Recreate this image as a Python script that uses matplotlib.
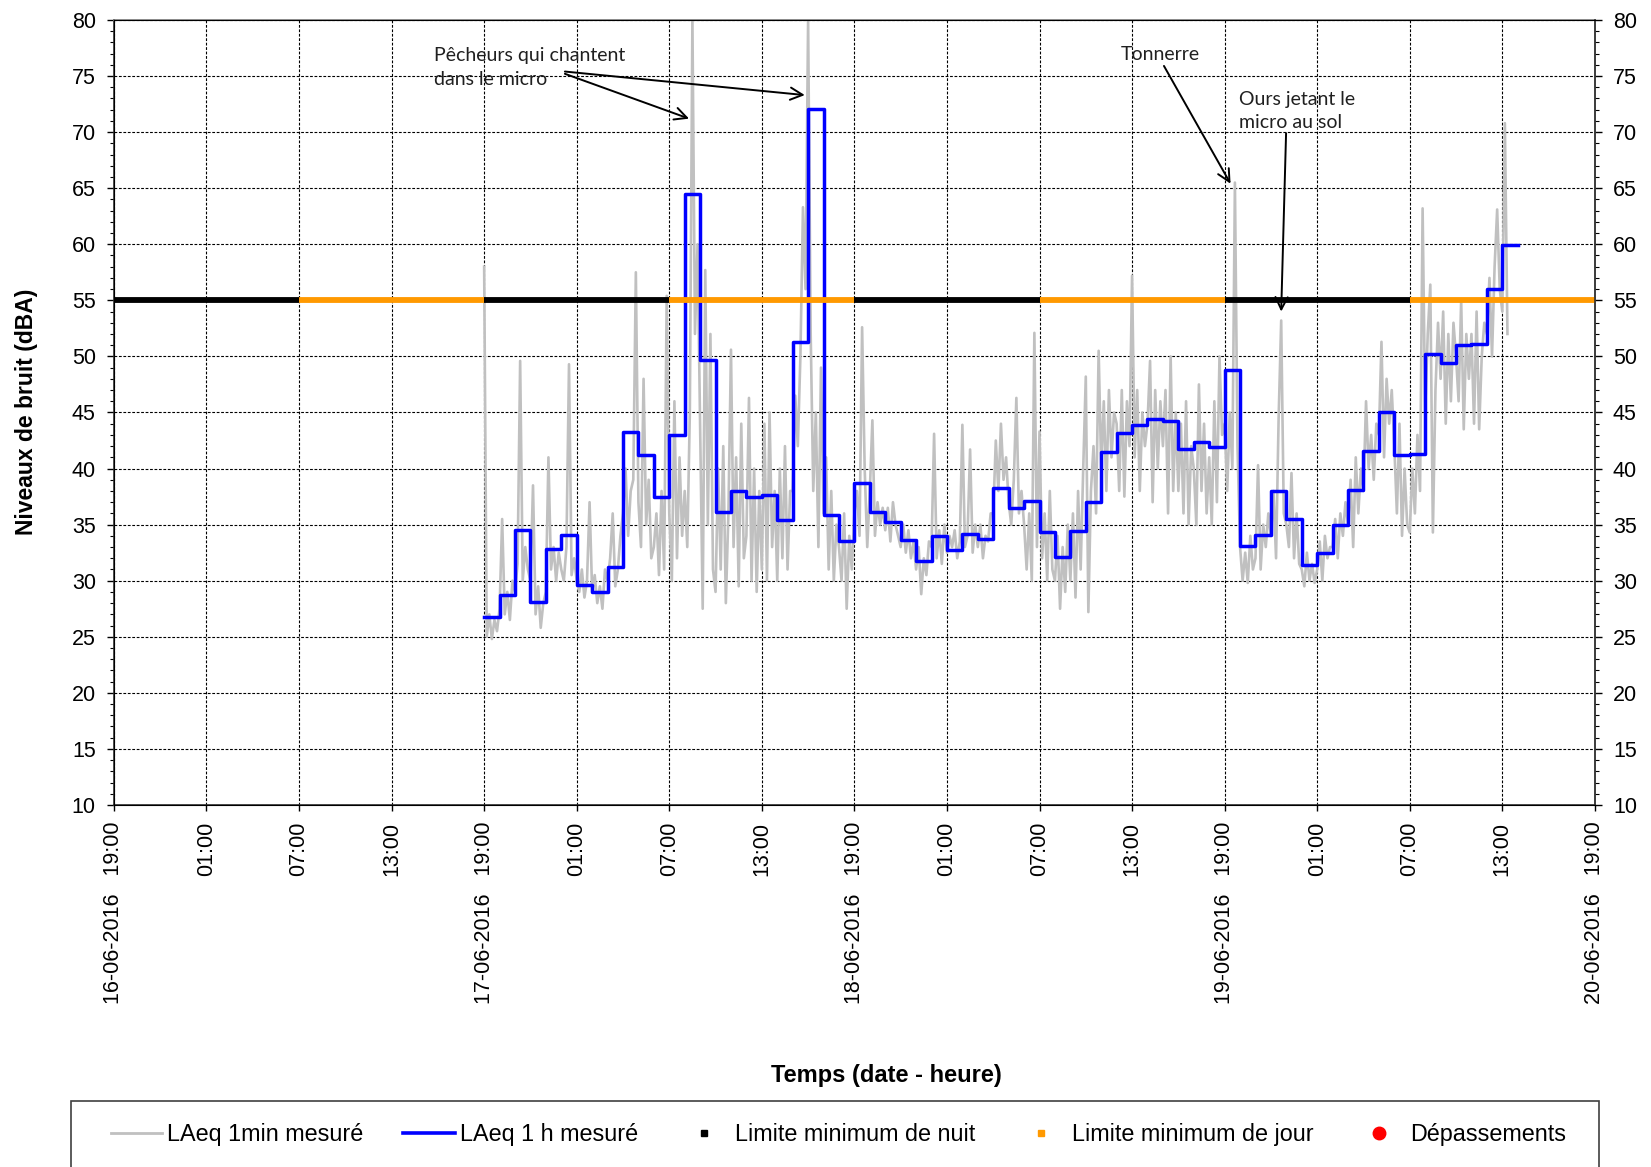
import numpy as np
import pandas as pd
import matplotlib
matplotlib.use("Agg")
import matplotlib.pyplot as plt
import matplotlib.dates as mdates
from matplotlib.ticker import MultipleLocator, FuncFormatter
from matplotlib.lines import Line2D
from matplotlib.patches import Rectangle

# ---------------------------------------------------------------- data
# LAeq 1 min (sampled every 10 minutes), one row per hour
gray_start_0617 = "2016-06-17 19:00"
gray_0617 = [
    58.0, 25.0, 27.0, 24.8, 26.5, 25.5,   # 19h
    27.5, 35.5, 27.0, 29.0, 26.5, 30.0,   # 20h
    29.0, 31.5, 49.6, 30.0, 33.0, 31.0,   # 21h
    30.0, 38.5, 27.0, 29.5, 25.8, 28.0,   # 22h
    29.0, 41.0, 31.0, 33.0, 30.0, 32.5,   # 23h
]
gray_0618 = [
    31.0, 30.0, 33.0, 49.3, 30.5, 32.0,
    30.0, 29.0, 31.0, 28.5, 30.0, 37.0,
    29.0, 30.5, 28.0, 29.5, 27.5, 31.0,
    30.0, 32.0, 36.0, 29.5, 31.0, 34.0,
    36.0, 40.0, 34.0, 38.0, 39.0, 57.5,
    37.0, 33.0, 48.0, 35.0, 39.0, 32.0,
    33.0, 36.0, 30.5, 38.0, 31.0, 55.4,
    36.0, 30.0, 46.0, 32.0, 41.0, 34.0,
    38.0, 33.0, 45.0, 80.0, 52.0, 60.0,
    44.0, 27.5, 57.7, 35.0, 52.0, 31.0,
    29.0, 40.0, 31.0, 42.0, 28.0, 36.0,
    50.6, 33.0, 41.0, 29.5, 44.0, 32.0,
    34.0, 46.3, 30.0, 40.0, 29.0, 38.0,
    31.0, 44.0, 30.0, 45.0, 33.0, 38.0,
    30.0, 40.0, 32.0, 42.0, 31.0, 38.0,
    38.0, 46.5, 42.0, 50.0, 63.3, 56.0,
    80.0, 52.0, 38.0, 45.0, 33.0, 49.0,
    36.0, 41.0, 31.0, 38.0, 30.0, 35.0,
    33.0, 30.0, 36.0, 27.5, 34.0, 31.0,
    36.0, 38.0, 34.0, 52.6, 40.0, 33.0,
    38.0, 44.3, 34.0, 37.0, 35.0, 36.5,
    34.5, 36.5, 33.5, 37.0, 35.0, 34.0,
    33.0, 35.0, 32.5, 34.5, 32.0, 33.5,
    31.0, 33.0, 28.8, 32.0, 30.5, 33.5,
]
gray_0619 = [
    33.0, 43.1, 32.0, 34.5, 31.5, 35.0,
    32.5, 34.0, 33.0, 34.5, 32.0, 33.5,
    43.9, 33.0, 34.0, 41.7, 32.5, 35.0,
    33.0, 35.0, 32.0, 34.0, 33.5, 36.0,
    36.0, 42.5, 38.0, 44.0, 39.0, 41.0,
    37.0, 35.0, 39.0, 46.3, 36.0, 38.0,
    35.0, 31.0, 36.0, 30.0, 52.1, 33.0,
    43.3, 32.0, 36.0, 30.0, 38.0, 31.0,
    30.0, 34.0, 27.5, 33.0, 29.0, 35.0,
    30.0, 36.0, 28.5, 38.0, 31.0, 40.0,
    48.2, 27.2, 38.0, 42.0, 36.0, 50.5,
    40.0, 46.0, 38.0, 47.0, 41.0, 45.0,
    44.0, 38.0, 47.0, 37.5, 46.0, 42.0,
    57.2, 41.0, 47.0, 38.0, 45.0, 42.0,
    44.0, 49.6, 37.0, 47.0, 40.0, 46.0,
    42.0, 47.0, 36.0, 50.0, 38.0, 45.0,
    38.0, 44.0, 36.0, 46.0, 35.0, 42.0,
    40.0, 35.0, 47.5, 38.0, 44.0, 36.0,
    41.0, 35.0, 46.0, 37.0, 50.0, 43.0,
    44.0, 38.0, 45.0, 40.0, 65.5, 42.0,
    33.0, 30.0, 32.5, 29.8, 34.0, 31.0,
    32.0, 40.3, 31.0, 35.0, 33.0, 36.0,
    34.0, 38.0, 32.0, 44.5, 53.2, 36.0,
    35.0, 33.0, 39.6, 32.0, 36.0, 31.5,
]
gray_0620 = [
    31.0, 29.5, 32.5, 30.0, 31.5, 29.8,
    31.0, 33.5, 30.0, 34.0, 32.0, 33.0,
    33.0, 35.5, 32.0, 36.0, 34.0, 37.0,
    35.0, 39.0, 33.0, 41.0, 36.0, 40.0,
    38.0, 46.0, 40.0, 43.0, 39.0, 44.0,
    43.0, 51.3, 41.0, 48.0, 44.0, 47.0,
    42.0, 36.0, 44.0, 34.0, 40.0, 35.0,
    34.3, 40.0, 36.0, 43.0, 38.0, 63.2,
    45.0, 52.0, 56.4, 34.3, 47.0, 53.0,
    48.0, 54.0, 44.0, 52.0, 46.0, 53.0,
    50.0, 46.0, 55.0, 43.5, 52.0, 48.0,
    52.0, 44.0, 54.0, 43.5, 50.0, 53.0,
    52.0, 57.0, 50.0, 58.0, 63.1, 56.0,
    54.0, 70.8, 52.0,
]

# LAeq 1 h, one value per hour starting 17-06-2016 19:00
laeq_1h_start = "2016-06-17 19:00"
laeq_1h = [
    26.8, 28.7, 34.5, 28.1, 32.8,                               # 17-06 19h-23h
    34.1, 29.6, 29.0, 31.2, 43.3, 41.2, 37.5, 43.0, 64.5, 49.7,  # 18-06 00h-09h
    36.1, 38.0, 37.5, 37.6, 35.4, 51.3, 72.1, 35.9, 33.5,        # 18-06 10h-18h
    38.7, 36.1, 35.2, 33.6, 31.8,                               # 18-06 19h-23h
    34.0, 32.7, 34.2, 33.7, 38.3, 36.5, 37.1, 34.3, 32.1, 34.4,  # 19-06 00h-09h
    37.0, 41.5, 43.2, 43.9, 44.4, 44.2, 41.7, 42.4, 41.9,        # 19-06 10h-18h
    48.8, 33.1, 34.1, 38.0, 35.5,                               # 19-06 19h-23h
    31.4, 32.5, 35.0, 38.1, 41.6, 45.0, 41.2, 41.3, 50.2, 49.4,  # 20-06 00h-09h
    51.0, 51.1, 56.0, 59.9,                                     # 20-06 10h-13h
]

limit_night = 55
limit_day = 55
period_start = "2016-06-16 19:00"
n_periods = 8          # alternating 12 h night / day periods

x_min = "2016-06-16 19:00"
x_max = "2016-06-20 19:00"

# ---------------------------------------------------------------- series
gray_vals = np.array(gray_0617 + gray_0618 + gray_0619 + gray_0620)
gray_t = pd.date_range(gray_start_0617, periods=len(gray_vals), freq="10min")

h_vals = np.array(laeq_1h + [laeq_1h[-1]])
h_t = pd.date_range(laeq_1h_start, periods=len(h_vals), freq="1h")

# ---------------------------------------------------------------- figure
plt.rcParams["font.family"] = ["Liberation Sans", "DejaVu Sans"]
fig = plt.figure(figsize=(16.51, 11.67), dpi=100)
ax = fig.add_axes([0.0690, 0.3102, 0.8970, 0.6727])

ax.plot(gray_t, gray_vals, color="#C0C0C0", lw=1.9, zorder=2)
ax.plot(h_t, h_vals, drawstyle="steps-post", color="#0000FF", lw=2.5, zorder=3)

p_edges = pd.date_range(period_start, periods=n_periods + 1, freq="12h")
for i in range(n_periods):
    night = (i % 2 == 0)
    ax.hlines(limit_night if night else limit_day, p_edges[i], p_edges[i + 1],
              color="black" if night else "#FF9900", lw=4.2, zorder=4)

# axes
ax.set_xlim(pd.Timestamp(x_min), pd.Timestamp(x_max))
ax.set_ylim(10, 80)
ax.yaxis.set_major_locator(MultipleLocator(5))
ax.yaxis.set_minor_locator(MultipleLocator(1))
ax.xaxis.set_major_locator(mdates.HourLocator(byhour=[1, 7, 13, 19]))


def tick_fmt(x, pos):
    d = mdates.num2date(x)
    if d.hour == 19:
        return d.strftime("%d-%m-%Y") + "   " + d.strftime("%H:%M")
    return d.strftime("%H:%M")


ax.xaxis.set_major_formatter(FuncFormatter(tick_fmt))
ax.tick_params(axis="x", which="major", length=4, width=1, pad=8,
               labelsize=15.5, labelrotation=90, direction="out")
plt.setp(ax.get_xticklabels(), va="top", ha="center")
ax.tick_params(axis="y", which="major", length=5, width=1, pad=8,
               labelsize=15.5, direction="out")
ax.tick_params(axis="y", which="minor", length=3, width=0.8, direction="out")

ax.grid(True, which="major", color="black", lw=0.8, ls=(0, (2.5, 1.5)))
ax.set_axisbelow(True)
for s in ax.spines.values():
    s.set_color("#808080")
    s.set_linewidth(1.2)
ax.spines["left"].set_color("#303030")
ax.spines["bottom"].set_color("#303030")

ax2 = ax.twinx()
ax2.set_ylim(10, 80)
ax2.yaxis.set_major_locator(MultipleLocator(5))
ax2.yaxis.set_minor_locator(MultipleLocator(1))
ax2.tick_params(axis="y", which="major", length=5, width=1, pad=8,
                labelsize=15.5, direction="out")
ax2.tick_params(axis="y", which="minor", length=3, width=0.8, direction="out")
ax2.spines["right"].set_color("#303030")
ax2.spines["right"].set_linewidth(1.2)

# axis titles
fig.text(0.537, 0.0785, "Temps (date - heure)", ha="center", va="center",
         fontsize=17, fontweight="bold")
fig.text(0.0158, 0.647, "Niveaux de bruit (dBA)", ha="center", va="center",
         rotation=90, fontsize=16.5, fontweight="bold")

# annotations
ann_font = dict(family=["Lato", "DejaVu Sans"], fontsize=14, color="#202020")
T = pd.Timestamp
ax.text(T("2016-06-17 15:43"), 75.75, "Pêcheurs qui chantent\ndans le micro",
        ha="left", va="center", linespacing=1.45, zorder=6, **ann_font)
arrow = dict(arrowstyle="->", color="black", lw=1.4, mutation_scale=22,
             shrinkA=0, shrinkB=0)
ax.annotate("", xy=(T("2016-06-18 08:17"), 71.2),
            xytext=(T("2016-06-18 00:14"), 75.2), arrowprops=arrow, zorder=6)
ax.annotate("", xy=(T("2016-06-18 15:47"), 73.3),
            xytext=(T("2016-06-18 00:14"), 75.4), arrowprops=arrow, zorder=6)

ax.text(T("2016-06-19 14:50"), 76.9, "Tonnerre", ha="center", va="center",
        zorder=6, **ann_font)
ax.annotate("", xy=(T("2016-06-19 19:23"), 65.4),
            xytext=(T("2016-06-19 15:04"), 75.9), arrowprops=arrow, zorder=6)

ax.text(T("2016-06-19 19:56"), 71.9, "Ours jetant le\nmicro au sol",
        ha="left", va="center", linespacing=1.45, zorder=6, **ann_font)
ax.annotate("", xy=(T("2016-06-19 22:40"), 54.0),
            xytext=(T("2016-06-19 22:59"), 69.9), arrowprops=arrow, zorder=6)

# legend: frameless entries inside a plain box
handles = [
    Line2D([], [], color="#C0C0C0", lw=2),
    Line2D([], [], color="#0000FF", lw=2.6),
    Line2D([], [], color="black", marker="s", ls="none", ms=4.5),
    Line2D([], [], color="#FF9900", marker="s", ls="none", ms=4.5),
    Line2D([], [], color="#FF0000", marker="o", ls="none", ms=9),
]
labels = ["LAeq 1min mesuré", "LAeq 1 h mesuré", "Limite minimum de nuit",
          "Limite minimum de jour", "Dépassements"]
leg = fig.legend(handles, labels, loc="center left", ncol=5,
                 bbox_to_anchor=(0.067, 0.0275), fontsize=16.8, frameon=False,
                 handlelength=2.2, handletextpad=0.23, columnspacing=1.71,
                 borderaxespad=0, borderpad=0)
fig.patches.append(Rectangle((0.043, -0.02), 0.9255, 0.0766,
                             transform=fig.transFigure, fill=False,
                             edgecolor="#404040", lw=1.2))

fig.savefig("out.png", dpi=100)
